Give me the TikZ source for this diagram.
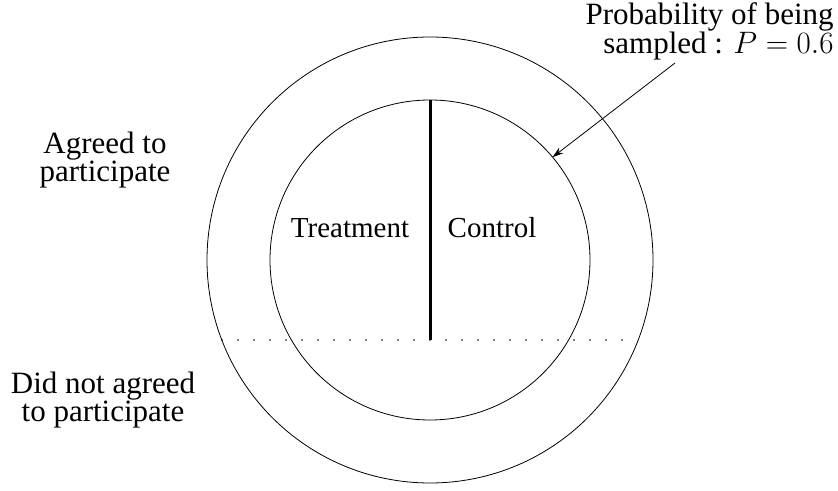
\RequirePackage{fix-cm}
\documentclass[tikz,border=0pt]{standalone}
\usepackage{fontspec}
\setmainfont{Liberation Serif}
\usetikzlibrary{arrows.meta}

\begin{document}
\begin{tikzpicture}[x=1pt, y=1pt, line width=0.8pt,
    ring/.style = {draw, circle, inner sep=0pt, outer sep=0pt},
    label/.style = {align=center, font=\fontsize{31}{25}\selectfont},
    group/.style = {anchor=base, font=\fontsize{29}{29}\selectfont}]
	\useasboundingbox (0,0) rectangle (838,490);
	\node[ring, minimum size=446pt] (outer) at (430,230) {};
	\node[ring, minimum size=320pt] (inner) at (430,230) {};
	\node[group] (treat) at (350,252) {Treatment};
	\node[group] (ctrl) at (492,252) {Control};
	\node[label] (agree) at (105,330) {Agreed to\\participate};
	\node[label] (notagree) at (103,90) {Did not agreed\\to participate};
	\node[label, align=right, anchor=east, inner sep=0pt] (prob) at (834,459) {Probability of being\\sampled : $P=0.6$};
	\coordinate (from) at (675,427);
	\coordinate (split) at (430,150);
	\coordinate (cutl) at (222,150);
	\coordinate (cutr) at (638,150);
	\draw[line width=3pt] (inner.north) -- (split);
	\draw[line width=1.7pt, line cap=round, dash pattern=on 0pt off 16pt] (cutl) -- (cutr);
	\draw[-{Stealth[length=11pt, width=7pt]}] (from) -- (inner.40.5);
\end{tikzpicture}
\end{document}
